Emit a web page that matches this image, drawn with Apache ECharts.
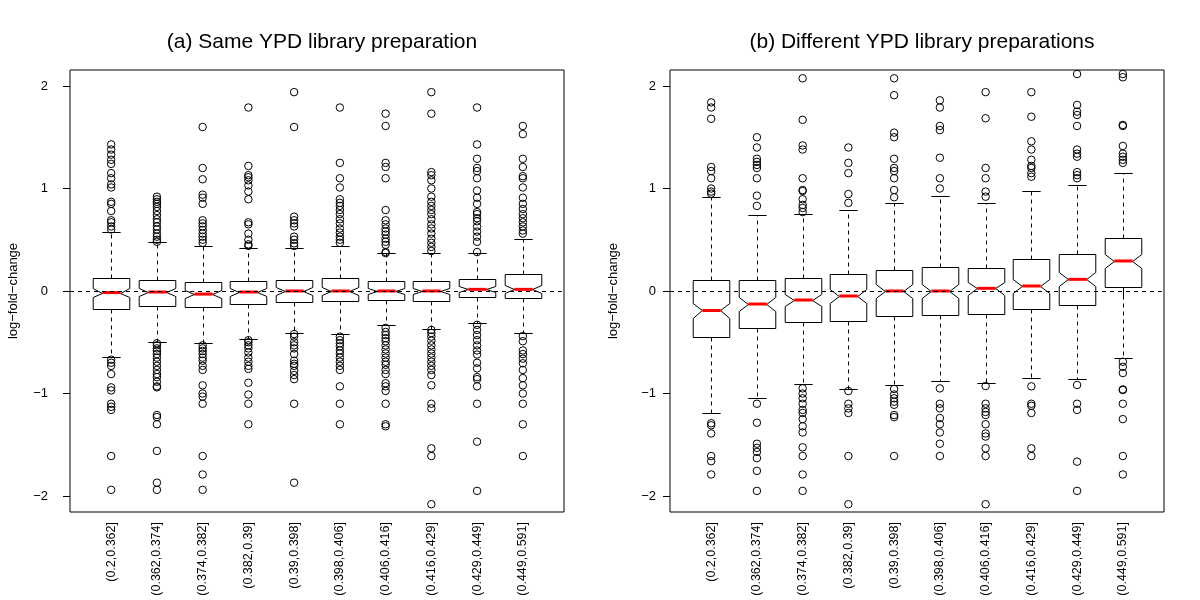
<!DOCTYPE html>
<html>
<head>
<meta charset="utf-8">
<script src="https://cdn.jsdelivr.net/npm/echarts@6/dist/echarts.min.js"></script>
<style>
html,body{margin:0;padding:0;background:#fff;}
#chart{width:1200px;height:600px;}
</style>
</head>
<body>
<div id="chart"></div>
<script>
// ---------- data ----------
const categories = ["(0.2,0.362]", "(0.362,0.374]", "(0.374,0.382]", "(0.382,0.39]", "(0.39,0.398]",
  "(0.398,0.406]", "(0.406,0.416]", "(0.416,0.429]", "(0.429,0.449]", "(0.449,0.591]"];
const yTicks = [-2, -1, 0, 1, 2];
const titleA = "(a) Same YPD library preparation";
const titleB = "(b) Different YPD library preparations";
const yName = "log\u2212fold\u2212change";

// Panel (a): same library preparation
const aLow   = [-0.64, -0.50, -0.51, -0.465, -0.41, -0.42, -0.33, -0.375, -0.315, -0.41];
const aQ1    = [-0.18, -0.143, -0.153, -0.13, -0.11, -0.098, -0.088, -0.095, -0.06, -0.07];
const aMed   = [-0.015, -0.01, -0.03, -0.01, 0.0, 0.0, 0.0, 0.0, 0.016, 0.016];
const aQ3    = [0.124, 0.107, 0.09, 0.098, 0.107, 0.124, 0.098, 0.098, 0.114, 0.163];
const aHigh  = [0.58, 0.475, 0.44, 0.42, 0.415, 0.44, 0.37, 0.375, 0.375, 0.51];
const aNotch = [0.045, 0.04, 0.04, 0.038, 0.035, 0.036, 0.032, 0.032, 0.03, 0.038];
const aOutliers = [
  [1.43, 1.38, 1.33, 1.28, 1.24, 1.15, 1.10, 1.04, 1.01, 0.87, 0.85, 0.78, 0.69, 0.67, 0.63, 0.60,
   -0.67, -0.70, -0.73, -0.81, -0.94, -0.97, -1.10, -1.13, -1.16, -1.61, -1.94],
  [0.92, 0.895, 0.87, 0.85, 0.82, 0.78, 0.74, 0.70, 0.67, 0.63, 0.60, 0.56, 0.53, 0.50, 0.48,
   -0.51, -0.53, -0.56, -0.585, -0.615, -0.65, -0.69, -0.73, -0.77, -0.81, -0.84, -0.885, -0.93, -0.94, -1.21, -1.23, -1.30, -1.56, -1.87, -1.94],
  [1.60, 1.20, 1.09, 0.94, 0.91, 0.85, 0.69, 0.66, 0.63, 0.595, 0.56, 0.53, 0.50, 0.47,
   -0.53, -0.56, -0.585, -0.615, -0.65, -0.68, -0.73, -0.77, -0.92, -1.0, -1.03, -1.10, -1.61, -1.79, -1.94],
  [1.79, 1.22, 1.13, 1.11, 1.08, 1.03, 0.97, 0.895, 0.67, 0.65, 0.56, 0.50, 0.455, 0.44,
   -0.48, -0.50, -0.53, -0.56, -0.60, -0.65, -0.69, -0.73, -0.76, -0.895, -1.01, -1.10, -1.30],
  [1.94, 1.60, 0.725, 0.69, 0.66, 0.63, 0.53, 0.50, 0.465, 0.44,
   -0.42, -0.445, -0.50, -0.53, -0.56, -0.615, -0.68, -0.71, -0.73, -0.78, -0.82, -0.86, -1.10, -1.87],
  [1.79, 1.25, 1.10, 1.01, 0.895, 0.86, 0.83, 0.79, 0.75, 0.70, 0.66, 0.61, 0.57, 0.53, 0.50, 0.47,
   -0.445, -0.48, -0.51, -0.54, -0.58, -0.61, -0.65, -0.69, -0.73, -0.77, -0.93, -1.10, -1.30],
  [1.73, 1.61, 1.25, 1.21, 1.10, 0.79, 0.69, 0.65, 0.61, 0.58, 0.55, 0.51, 0.48, 0.45, 0.38, 0.37,
   -0.36, -0.40, -0.43, -0.46, -0.49, -0.53, -0.57, -0.61, -0.65, -0.69, -0.72, -0.77, -0.81, -0.90, -0.93, -0.975, -1.10, -1.30, -1.32],
  [1.94, 1.73, 1.16, 1.13, 1.08, 1.00, 0.92, 0.87, 0.83, 0.79, 0.75, 0.70, 0.65, 0.61, 0.56, 0.51, 0.47, 0.43, 0.39,
   -0.38, -0.41, -0.445, -0.485, -0.53, -0.57, -0.61, -0.65, -0.69, -0.73, -0.77, -0.82, -0.92, -1.10, -1.145, -1.535, -1.61, -2.08],
  [1.79, 1.43, 1.29, 1.20, 1.17, 1.10, 0.98, 0.91, 0.85, 0.77, 0.75, 0.71, 0.68, 0.63, 0.58, 0.53, 0.48, 0.38,
   -0.33, -0.38, -0.43, -0.48, -0.53, -0.58, -0.62, -0.70, -0.755, -0.84, -0.86, -0.93, -1.10, -1.47, -1.95],
  [1.61, 1.53, 1.29, 1.21, 1.12, 1.10, 1.01, 0.91, 0.85, 0.80, 0.75, 0.71, 0.67, 0.63, 0.59, 0.56,
   -0.44, -0.49, -0.58, -0.615, -0.66, -0.705, -0.77, -0.85, -0.92, -1.0, -1.10, -1.30, -1.61]
];

// Panel (b): different library preparations
const bLow   = [-1.19, -1.047, -0.91, -0.956, -0.917, -0.878, -0.895, -0.846, -0.862, -0.657];
const bQ1    = [-0.445, -0.358, -0.30, -0.293, -0.244, -0.234, -0.227, -0.176, -0.137, 0.036];
const bMed   = [-0.19, -0.127, -0.088, -0.049, 0.0, 0.0, 0.026, 0.049, 0.114, 0.293];
const bQ3    = [0.107, 0.107, 0.124, 0.163, 0.205, 0.237, 0.227, 0.309, 0.358, 0.514];
const bHigh  = [0.915, 0.74, 0.75, 0.79, 0.86, 0.927, 0.86, 0.98, 1.034, 1.154];
const bNotch = [0.075, 0.068, 0.062, 0.065, 0.065, 0.068, 0.066, 0.07, 0.07, 0.066];
const bOutliers = [
  [1.84, 1.79, 1.68, 1.21, 1.17, 1.10, 1.00, 0.97, 0.95,
   -1.29, -1.31, -1.39, -1.61, -1.66, -1.79],
  [1.50, 1.40, 1.29, 1.26, 1.23, 1.20, 1.10, 0.93, 0.83,
   -1.10, -1.285, -1.49, -1.53, -1.57, -1.63, -1.755, -1.95],
  [2.075, 1.67, 1.42, 1.38, 1.10, 0.985, 0.975, 0.895, 0.84, 0.81, 0.77,
   -0.95, -1.0, -1.047, -1.10, -1.16, -1.19, -1.25, -1.32, -1.38, -1.525, -1.61, -1.79, -1.95],
  [1.40, 1.25, 1.15, 0.946, 0.86,
   -0.976, -1.10, -1.145, -1.19, -1.61, -2.08],
  [2.075, 1.91, 1.545, 1.50, 1.29, 1.20, 1.17, 1.10, 0.985, 0.915,
   -0.956, -1.01, -1.047, -1.08, -1.11, -1.21, -1.23, -1.61],
  [1.86, 1.79, 1.61, 1.57, 1.30, 1.10, 1.00,
   -0.95, -1.10, -1.145, -1.24, -1.30, -1.38, -1.49, -1.61],
  [1.94, 1.685, 1.20, 1.10, 0.97, 0.92,
   -0.927, -1.10, -1.145, -1.18, -1.21, -1.30, -1.39, -1.42, -1.535, -1.61, -2.08],
  [1.94, 1.70, 1.46, 1.38, 1.28, 1.22, 1.20, 1.15, 1.115,
   -0.93, -1.10, -1.12, -1.19, -1.535, -1.61],
  [2.117, 1.815, 1.75, 1.717, 1.61, 1.38, 1.34, 1.31, 1.16, 1.13, 1.10,
   -0.917, -1.10, -1.16, -1.665, -1.95],
  [2.117, 2.085, 1.62, 1.61, 1.415, 1.34, 1.31, 1.28, 1.25,
   -0.69, -0.74, -0.80, -0.96, -0.966, -1.10, -1.25, -1.61, -1.79]
];

// ---------- build ----------
function boxData(low, q1, med, q3, high, notch) {
  return categories.map((c, i) => [i + 1, low[i], q1[i], med[i], q3[i], high[i], notch[i]]);
}
function outlierData(outs) {
  const res = [];
  outs.forEach((arr, i) => arr.forEach(v => res.push([i + 1, v])));
  return res;
}

function renderBox(params, api) {
  const x = api.value(0);
  const lo = api.value(1), q1 = api.value(2), md = api.value(3), q3 = api.value(4), hi = api.value(5), nt = api.value(6);
  const cx = Math.round(api.coord([x, md])[0]) + 0.5;
  const w = api.size([0.8, 0])[0];
  const hw = w / 2, qw = w / 4;
  const y = v => Math.round(api.coord([x, v])[1]) + 0.5;
  const pts = [
    [cx - hw, y(q1)], [cx - hw, y(md - nt)], [cx - qw, y(md)], [cx - hw, y(md + nt)], [cx - hw, y(q3)],
    [cx + hw, y(q3)], [cx + hw, y(md + nt)], [cx + qw, y(md)], [cx + hw, y(md - nt)], [cx + hw, y(q1)]
  ];
  const stroke = '#000';
  return {
    type: 'group',
    children: [
      { type: 'line', shape: { x1: cx, y1: y(q3), x2: cx, y2: y(hi) }, style: { stroke, lineWidth: 1, lineDash: [4, 4] } },
      { type: 'line', shape: { x1: cx, y1: y(q1), x2: cx, y2: y(lo) }, style: { stroke, lineWidth: 1, lineDash: [4, 4] } },
      { type: 'line', shape: { x1: cx - qw, y1: y(hi), x2: cx + qw, y2: y(hi) }, style: { stroke, lineWidth: 1 } },
      { type: 'line', shape: { x1: cx - qw, y1: y(lo), x2: cx + qw, y2: y(lo) }, style: { stroke, lineWidth: 1 } },
      { type: 'polygon', shape: { points: pts }, style: { fill: '#fff', stroke, lineWidth: 1 } },
      { type: 'line', shape: { x1: cx - qw, y1: api.coord([x, md])[1], x2: cx + qw, y2: api.coord([x, md])[1] }, style: { stroke: '#ff0000', lineWidth: 3 } }
    ]
  };
}

const font = 'Liberation Sans, Arial, sans-serif';
const minus = v => (v < 0 ? '\u2212' + (-v) : String(v));

function xAxisDef(gi) {
  return {
    type: 'value', gridIndex: gi, min: 0.1, max: 10.9,
    axisLine: { show: false }, splitLine: { show: false },
    axisTick: { show: true, length: 7, customValues: categories.map((c, i) => i + 1), lineStyle: { color: '#000' } },
    axisLabel: {
      show: true, rotate: 90, margin: 10, customValues: categories.map((c, i) => i + 1),
      formatter: v => categories[Math.round(v) - 1] || '',
      fontFamily: font, fontSize: 12.5, color: '#000'
    }
  };
}
function yAxisDef(gi, labelMargin) {
  return {
    type: 'value', gridIndex: gi, min: -2.156, max: 2.156,
    name: yName, nameLocation: 'middle', nameGap: 50, nameRotate: 90,
    nameTextStyle: { fontFamily: font, fontSize: 13, color: '#000' },
    axisLine: { show: false }, splitLine: { show: false },
    axisTick: { show: true, length: 7, customValues: yTicks, lineStyle: { color: '#000' } },
    axisLabel: { show: true, margin: labelMargin, customValues: yTicks, formatter: minus, fontFamily: font, fontSize: 13, color: '#000' }
  };
}

function panelSeries(gi, low, q1, med, q3, high, notch, outs) {
  return [
    {
      type: 'custom', xAxisIndex: gi, yAxisIndex: gi, renderItem: renderBox, z: 2,
      data: boxData(low, q1, med, q3, high, notch), silent: true, animation: false
    },
    {
      type: 'scatter', xAxisIndex: gi, yAxisIndex: gi, symbol: 'circle', symbolSize: 7.5, z: 3,
      itemStyle: { color: 'rgba(0,0,0,0)', borderColor: '#000', borderWidth: 1, opacity: 1 },
      data: outlierData(outs), silent: true, animation: false
    },
    {
      type: 'line', xAxisIndex: gi, yAxisIndex: gi, data: [], z: 5, silent: true, animation: false,
      markLine: {
        silent: true, symbol: ['none', 'none'], label: { show: false }, animation: false,
        lineStyle: { color: '#000', width: 1, type: [4, 4] },
        data: [{ yAxis: 0 }]
      }
    }
  ];
}

const chart = echarts.init(document.getElementById('chart'), null, { renderer: 'canvas' });
chart.setOption({
  backgroundColor: '#fff',
  animation: false,
  title: [
    { text: titleA, left: 317, top: 27, textAlign: 'center', textStyle: { fontFamily: font, fontSize: 21, fontWeight: 'normal', color: '#000' } },
    { text: titleB, left: 917, top: 27, textAlign: 'center', textStyle: { fontFamily: font, fontSize: 21, fontWeight: 'normal', color: '#000' } }
  ],
  grid: [
    { left: 70, top: 70, width: 494, height: 442, show: true, borderColor: '#000', borderWidth: 1, backgroundColor: 'transparent' },
    { left: 670, top: 70, width: 494, height: 442, show: true, borderColor: '#000', borderWidth: 1, backgroundColor: 'transparent' }
  ],
  xAxis: [xAxisDef(0), xAxisDef(1)],
  yAxis: [yAxisDef(0, 22), yAxisDef(1, 14)],
  series: [
    ...panelSeries(0, aLow, aQ1, aMed, aQ3, aHigh, aNotch, aOutliers),
    ...panelSeries(1, bLow, bQ1, bMed, bQ3, bHigh, bNotch, bOutliers)
  ]
});
</script>
</body>
</html>
